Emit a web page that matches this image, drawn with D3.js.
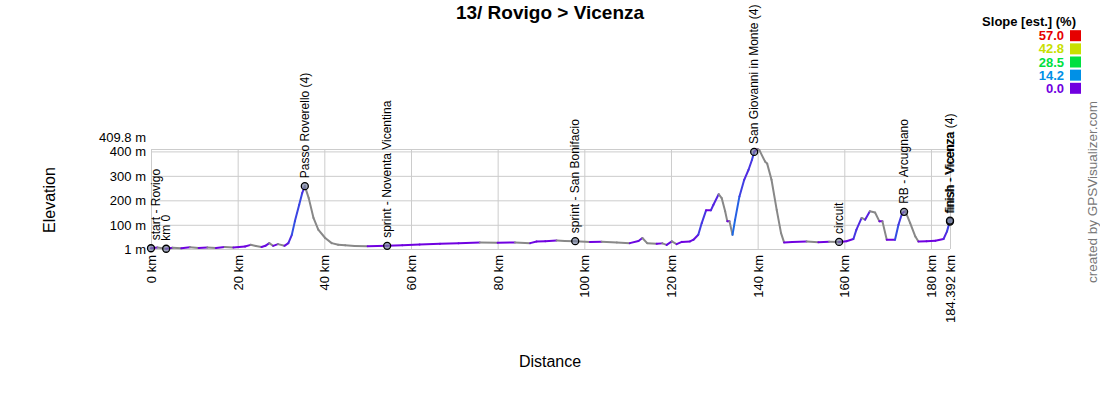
<!DOCTYPE html>
<html>
<head>
<meta charset="utf-8">
<script src="https://cdn.jsdelivr.net/npm/d3@7"></script>
<style>
  body { margin: 0; background: #fff; }
  svg { display: block; font-family: Arial, "Liberation Sans", sans-serif; }
</style>
</head>
<body>
<svg id="chart" width="1100" height="400"></svg>
<script>
// ---- data ----
const titleText = "13/ Rovigo > Vicenza";
const distanceKm = [0, 1.5, 3.5, 5, 7, 9, 11, 13, 15, 17, 19, 21.7, 23, 24.2, 25.5, 26.4, 27.3, 28.2, 29.3, 30.8, 31.7, 32.5, 33.2, 34.2, 34.9, 35.5, 36.4, 37.5, 38.6, 40.2, 41.7, 43.2, 44.8, 47, 50, 54.5, 58, 62, 66.7, 71, 75.9, 80, 84, 87.5, 89, 91, 93.6, 95.5, 97.9, 101.3, 104, 107.5, 110.5, 112.5, 113.4, 114.5, 116.7, 118, 119, 120.2, 121.3, 122.5, 124.4, 125.2, 126.3, 127.1, 128.1, 129.2, 129.8, 131, 131.7, 132.5, 133, 133.5, 134.2, 134.8, 135.8, 136.9, 137.9, 138.7, 139.2, 140.0, 140.4, 141.7, 142.2, 143.2, 144.4, 145.4, 146.1, 148, 151.3, 154, 156.5, 158.8, 160.5, 162.1, 162.8, 164, 164.8, 165.9, 167.1, 168.1, 168.8, 169.8, 171.7, 172.5, 173.3, 173.8, 174.1, 175.2, 176.4, 177.1, 179, 181, 182.9, 183.7, 184.392];
const elevationM = [4, 7, 2, 6, 4, 8, 5, 7, 5, 9, 7, 11, 18, 13, 9, 14, 25, 14, 21, 14, 25, 59, 114, 182, 230, 258, 209, 128, 80, 46, 25, 18, 16, 13, 12, 14, 16, 19, 22, 24, 28, 27, 28, 25, 32, 33, 36, 34, 33, 30, 31, 28, 25, 34, 46, 25, 22, 24, 18, 32, 21, 30, 32, 39, 59, 107, 159, 159, 182, 225, 209, 155, 114, 114, 59, 121, 216, 284, 325, 366, 398, 409.8, 405, 359, 350, 284, 161, 66, 28, 30, 32, 29, 31, 30, 33, 42, 80, 128, 121, 155, 150, 114, 114, 39, 39, 100, 145, 153, 155, 107, 52, 32, 33, 35, 42, 73, 117];

const waypointNames = ["start - Rovigo", "km 0", "Passo Roverello (4)", "sprint - Noventa Vicentina", "sprint - San Bonifacio", "San Giovanni in Monte (4)", "circuit", "RB - Arcugnano", "finish - Vicenza", "finish - Vicenza (4)"];
const waypointKm = [0, 3.5, 35.5, 54.5, 97.9, 139.2, 158.8, 173.8, 184.392, 184.392];
const waypointElev = [4, 2, 258, 14, 33, 398, 30, 153, 113, 117];

const xTickValues = [0, 20, 40, 60, 80, 100, 120, 140, 160, 180, 184.392];
const xTickLabels = ["0 km", "20 km", "40 km", "60 km", "80 km", "100 km", "120 km", "140 km", "160 km", "180 km", "184.392 km"];
const yTickValues = [1, 100, 200, 300, 400, 409.8];
const yTickLabels = ["1 m", "100 m", "200 m", "300 m", "400 m", "409.8 m"];

const legendTitle = "Slope [est.] (%)";
const legendValues = [57.0, 42.8, 28.5, 14.2, 0.0];
const legendColors = ["#e60000", "#c8e000", "#00e040", "#0090e6", "#7000e0"];

// ---- layout ----
const svg = d3.select("#chart");
const plotLeft = 151, plotRight = 950, plotTop = 149, plotBottom = 249;

const x = d3.scaleLinear().domain([0, 184.392]).range([plotLeft, plotRight]);
const y = d3.scaleLinear().domain([1, 409.8]).range([plotBottom, plotTop]);

// grid
const gridX = svg.append("g").attr("transform", `translate(0,${plotBottom})`)
  .call(d3.axisBottom(x).tickValues(xTickValues).tickSize(-(plotBottom - plotTop)).tickFormat(""));
const gridY = svg.append("g").attr("transform", `translate(${plotLeft},0)`)
  .call(d3.axisLeft(y).tickValues(yTickValues).tickSize(-(plotRight - plotLeft)).tickFormat(""));
[gridX, gridY].forEach(g => {
  g.select(".domain").remove();
  g.selectAll(".tick line").attr("stroke", "#cccccc").attr("stroke-width", 1);
});

// x axis labels
const xAxis = svg.append("g").attr("transform", `translate(0,${plotBottom})`)
  .call(d3.axisBottom(x).tickValues(xTickValues).tickSize(0)
    .tickFormat((d, i) => xTickLabels[i]));
xAxis.select(".domain").remove();
xAxis.selectAll("text")
  .attr("transform", "rotate(-90)")
  .attr("x", -6).attr("y", 0).attr("dy", "0.35em")
  .attr("text-anchor", "end")
  .attr("font-size", "13px").attr("fill", "#000")
  .attr("font-family", "Arial, 'Liberation Sans', sans-serif");

// y axis labels
const yAxis = svg.append("g").attr("transform", `translate(${plotLeft},0)`)
  .call(d3.axisLeft(y).tickValues(yTickValues).tickSize(0).tickPadding(5)
    .tickFormat((d, i) => yTickLabels[i]));
yAxis.select(".domain").remove();
yAxis.selectAll("text")
  .attr("font-size", "13px").attr("fill", "#000")
  .attr("font-family", "Arial, 'Liberation Sans', sans-serif")
  .attr("dy", d => d === 409.8 ? "-0.6em" : "0.35em");

// profile colored by slope
const slopeColor = d3.scaleLinear()
  .domain(legendValues.slice().reverse())
  .range(legendColors.slice().reverse())
  .clamp(true);
const segs = [];
for (let i = 0; i < distanceKm.length - 1; i++) {
  const dk = distanceKm[i + 1] - distanceKm[i];
  const de = elevationM[i + 1] - elevationM[i];
  const slope = de / (dk * 1000) * 100;
  segs.push({ i, slope });
}
svg.append("g").selectAll("line").data(segs).join("line")
  .attr("x1", d => x(distanceKm[d.i]))
  .attr("y1", d => y(elevationM[d.i]))
  .attr("x2", d => x(distanceKm[d.i + 1]))
  .attr("y2", d => y(elevationM[d.i + 1]))
  .attr("stroke", d => d.slope < 0 ? "#888888" : slopeColor(d.slope))
  .attr("stroke-width", 2)
  .attr("stroke-linecap", "round");

// waypoints
const wp = svg.append("g");
waypointNames.forEach((name, i) => {
  const px = x(waypointKm[i]), py = y(waypointElev[i]);
  wp.append("circle").attr("cx", px).attr("cy", py).attr("r", 3.5)
    .attr("fill", "rgba(120,130,160,0.7)").attr("stroke", "#000").attr("stroke-width", 1.3);
  const lx = Math.max(px, 156);
  wp.append("text")
    .attr("transform", `translate(${lx},${py - 8}) rotate(-90)`)
    .attr("dy", "0.35em")
    .attr("text-anchor", "start")
    .attr("font-size", "12px")
    .attr("fill", "#000")
    .text(name);
});

// title
svg.append("text").attr("x", 550).attr("y", 19).attr("text-anchor", "middle")
  .attr("font-size", "19px").attr("font-weight", "bold").attr("fill", "#000")
  .text(titleText);

// axis titles
svg.append("text").attr("transform", "translate(55,200) rotate(-90)")
  .attr("text-anchor", "middle").attr("font-size", "16px").attr("fill", "#000")
  .text("Elevation");
svg.append("text").attr("x", 550).attr("y", 367).attr("text-anchor", "middle")
  .attr("font-size", "16px").attr("fill", "#000")
  .text("Distance");

// legend
svg.append("text").attr("x", 1076).attr("y", 26).attr("text-anchor", "end")
  .attr("font-size", "13px").attr("font-weight", "bold").attr("fill", "#000")
  .text(legendTitle);
const rowY = d3.scalePoint().domain(d3.range(legendValues.length)).range([35.7, 88.3]);
legendValues.forEach((v, i) => {
  svg.append("text").attr("x", 1064).attr("y", rowY(i) + 4.6).attr("text-anchor", "end")
    .attr("font-size", "13px").attr("font-weight", "bold").attr("fill", legendColors[i])
    .text(v.toFixed(1));
  svg.append("rect").attr("x", 1070).attr("y", rowY(i) - 5.5).attr("width", 11).attr("height", 11)
    .attr("fill", legendColors[i]);
});

// credit
svg.append("text").attr("transform", "translate(1097,192) rotate(-90)")
  .attr("text-anchor", "middle").attr("font-size", "13.5px").attr("fill", "#777")
  .text("created by GPSVisualizer.com");
</script>
</body>
</html>
